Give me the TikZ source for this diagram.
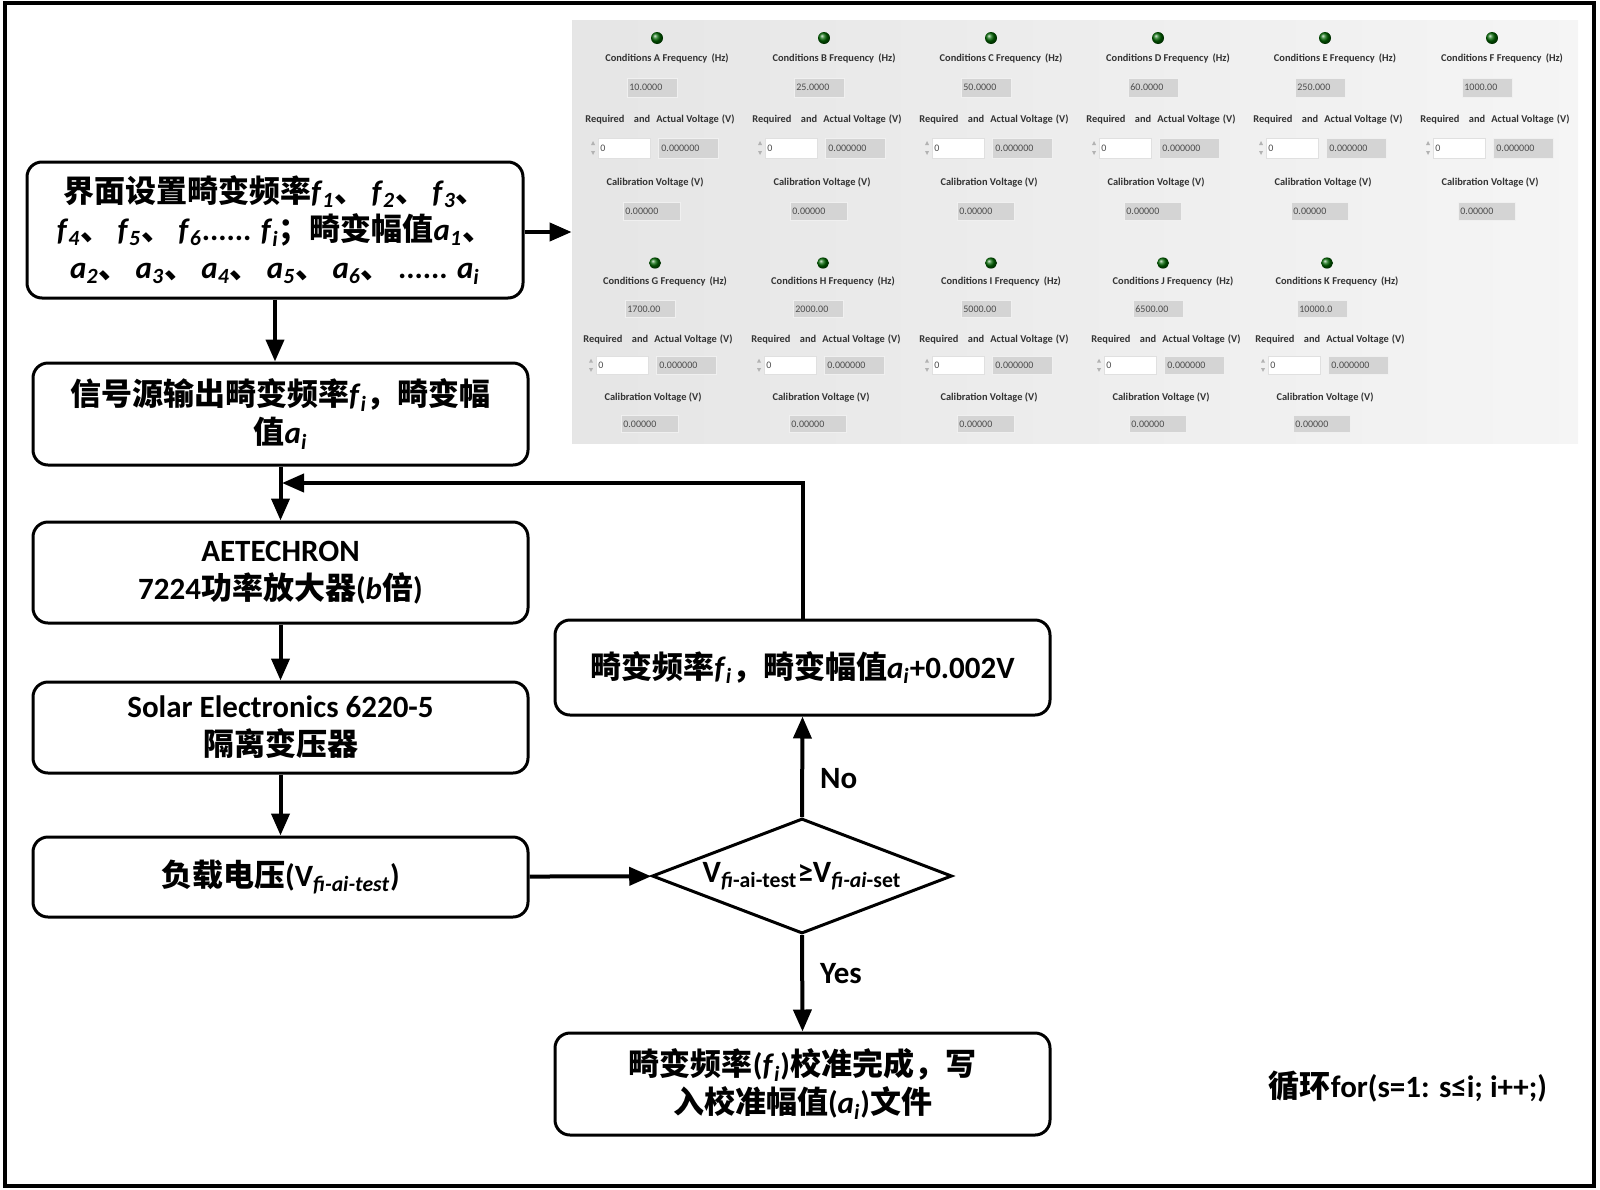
\documentclass[tikz,border=0pt]{standalone}
\usepackage{fontspec}
\setmainfont{Carlito}
\newfontfamily\cjk{Noto Sans CJK SC}
\usetikzlibrary{shapes.geometric, arrows.meta, positioning}

\newcommand\zh[1]{{\cjk #1}}
\newcommand\fsub[1]{\textit{f}\textsubscript{\textit{#1}}}
\newcommand\asub[1]{\textit{a}\textsubscript{\textit{#1}}}
\newcommand\dun{\zh{、}\hspace{0.2em}}

\begin{document}
\begin{tikzpicture}[x=0.5pt, y=-0.5pt, >={Triangle[length=11pt,width=9pt]},
    font=\bfseries\fontsize{15.5}{19}\selectfont,
    box/.style={draw, line width=1.5pt, rounded corners=7.5pt, align=center, inner sep=0pt},
    dia/.style={draw, diamond, line width=1.5pt, aspect=2.6, inner sep=0pt},
    arr/.style={->, line width=2pt},
    lbl/.style={inner sep=0pt},
    uitext/.style={font=\bfseries\fontsize{5.2}{6}\selectfont, text=black!80, inner sep=0pt},
    uival/.style={font=\fontsize{5}{6}\selectfont, text=black!70, inner sep=0pt, anchor=west},
    uibox/.style={fill=black!17, draw=black!6, line width=0.5pt},
    uiin/.style={fill=white, draw=black!12, line width=0.5pt}]
        \useasboundingbox (0,0) rectangle (1600,1189);
        % Frame
        \draw [line width=1.75pt] (5,3) rectangle (1594,1186);

        % Flow chart
        \node[box, minimum width=248pt, minimum height=68pt] (cfg) at (275,230)
            {\zh{界面设置畸变频率}\fsub{1}\dun\fsub{2}\dun\fsub{3}\zh{、}\\
             \fsub{4}\dun\fsub{5}\dun\fsub{6}...... \fsub{i}\zh{；畸变幅值}\asub{1}\zh{、}\\
             \asub{2}\dun\asub{3}\dun\asub{4}\dun\asub{5}\dun\asub{6}\dun...... \asub{i}};
        \node[box, minimum width=247.5pt, minimum height=51pt] (sig) at (280.5,414)
            {\zh{信号源输出畸变频率}\fsub{i}\zh{，畸变幅}\\\zh{值}\asub{i}};
        \node[box, minimum width=247.5pt, minimum height=50.5pt] (amp) at (280.5,572.5)
            {AETECHRON\\7224\zh{功率放大器}(\textit{b}\zh{倍})};
        \node[box, minimum width=247.5pt, minimum height=45.5pt] (iso) at (280.5,727.5)
            {Solar Electronics 6220-5\\\zh{隔离变压器}};
        \node[box, minimum width=247.5pt, minimum height=40pt] (load) at (280.5,877)
            {\zh{负载电压}(V\textsubscript{\textit{fi-ai-test}})};
        \node[dia, minimum width=150pt, minimum height=57.5pt] (cmp) at (802,876)
            {V\textsubscript{\textit{fi}-ai-test}≥V\textsubscript{\textit{fi-ai}-set}};
        \node[box, minimum width=247.5pt, minimum height=47.5pt] (fix) at (802.5,667.5)
            {\zh{畸变频率}\fsub{i}\zh{，畸变幅值}\asub{i}+0.002V};
        \node[box, minimum width=247.5pt, minimum height=51pt] (done) at (802.5,1084)
            {\zh{畸变频率}(\fsub{i})\zh{校准完成，写}\\\zh{入校准幅值}(\asub{i})\zh{文件}};
        \node (loop) at (1408,1087) {\zh{循环}for(s=1: s≤i; i++;)};

        % Connectors
        \coordinate (join) at (282,483);
        \draw[arr] (cfg.south) -- (cfg.south |- sig.north);
        \draw[arr] (sig) -- (amp);
        \draw[arr] (amp) -- (iso);
        \draw[arr] (iso) -- (load);
        \draw[arr] (load) -- (cmp);
        \draw[arr] (cmp.north) -- node[lbl, pos=0.38, right=8pt] (no) {No} (fix.south);
        \draw[arr] (cmp.south) -- node[lbl, pos=0.4, right=8pt] (yes) {Yes} (done.north);
        \draw[arr] (fix.north) |- (join);

        % Interface screenshot
        \node[left color=black!10, right color=black!4, minimum width=503pt, minimum height=211.5pt, inner sep=0pt] (ui) at (1075,231.5) {};
        \draw[arr] (cfg.east |- 0,232) -- (ui.west |- 0,232);
        \foreach \cx/\cy/\sc/\cn/\fq in {660/38/1/A/10.0000, 827/38/1/B/25.0000, 994/38/1/C/50.0000,
                1161/38/1/D/60.0000, 1328/38/1/E/250.000, 1495/38/1/F/1000.00,
                658/263/0.93/G/1700.00, 826/263/0.93/H/2000.00, 994/263/0.93/I/5000.00,
                1166/263/0.93/J/6500.00, 1330/263/0.93/K/10000.0}{
            \begin{scope}[shift={(\cx,\cy)}, yscale=\sc]
                \shade[ball color=green!40!black] (-3,0) circle (3pt);
                \node[uitext] at (7,20) {Conditions \cn{} Frequency\hspace{0.4em}(Hz)};
                \draw[uibox] (-33,40) rectangle (17,59);
                \node[uival] at (-31,49.5) {\fq};
                \node[uitext] at (0,82) {Required\hspace{0.9em}and\hspace{0.6em}Actual Voltage\hspace{0.3em}(V)};
                \fill[black!30] (-69,107) -- (-65,107) -- (-67,103) -- cycle;
                \fill[black!30] (-69,113) -- (-65,113) -- (-67,117) -- cycle;
                \draw[uiin] (-62,100) rectangle (-10,120);
                \node[uival] at (-60,110) {0};
                \draw[uibox] (-2,100) rectangle (58,120);
                \node[uival] at (1,110) {0.000000};
                \node[uitext] at (-5,145) {Calibration Voltage (V)};
                \draw[uibox] (-37,164) rectangle (20,182);
                \node[uival] at (-35,173) {0.00000};
            \end{scope}}
\end{tikzpicture}
\end{document}
